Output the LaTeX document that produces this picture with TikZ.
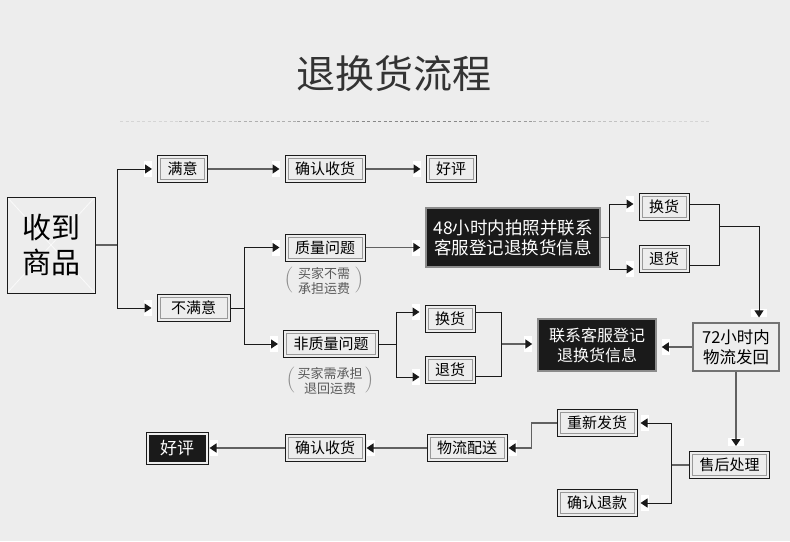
\documentclass[tikz,border=0pt]{standalone}
\usepackage{fontspec}
\newfontfamily\cjk{Noto Sans CJK SC}
\usetikzlibrary{arrows.meta,decorations.markings}
\definecolor{bg}{HTML}{EDEDED}
\definecolor{ink}{HTML}{1A1A1A}
\tikzset{
  ln/.style={draw=ink,line width=1pt},
  gl/.style={draw=black!62,line width=1.6pt},
  arr/.style={-{Triangle[length=7pt,width=9pt,color=ink]},shorten >=#1,
    preaction={decorate,decoration={markings,
      mark=at position 1 with {\fill[white] (-8pt-#1,-8pt) rectangle (-#1,8pt);}}}},
  arr/.default=5pt,
  wbox/.style={draw=ink,line width=1pt,fill=bg,minimum height=27pt,inner xsep=10pt,inner ysep=0pt,
    font=\cjk\fontsize{15}{18}\selectfont,
    path picture={\draw[black!40,line width=.8pt]
      ([shift={(3pt,-3pt)}]path picture bounding box.north west) rectangle
      ([shift={(-3pt,3pt)}]path picture bounding box.south east);}},
  kbox/.style={draw=black!45,line width=1.5pt,fill=ink,text=white,align=center,inner sep=0pt},
  note/.style={text=black!65,align=center,inner sep=0pt,font=\cjk\fontsize{13}{14.5}\selectfont},
  paren/.style={text=black!45,inner sep=0pt,font=\fontsize{26}{28}\selectfont}
}
\begin{document}
\begin{tikzpicture}[x=1pt,y=-1pt]
\fill[bg] (0,0) rectangle (790,541);
\path[use as bounding box] (0,0) rectangle (790,541);
% title
\node[text=black!80,font=\cjk\fontsize{39}{44}\selectfont] (title) at (394,74) {退换货流程};
\foreach \i in {0,...,9}{
  \pgfmathtruncatemacro\c{48-38*abs(\i-4.5)/4.5}
  \draw[black!\c!bg,line width=.8pt,dash pattern=on 3pt off 2.5pt] (120+\i*59,121) -- (179+\i*59,121);
}
% boxes
\node[draw=ink,line width=1pt,fill=bg,minimum width=88pt,minimum height=96pt,align=center,inner sep=0pt,
  font=\cjk\fontsize{29}{35}\selectfont,
  path picture={\draw[white!75!bg,line width=.8pt]
    (path picture bounding box.north west) -- (path picture bounding box.south east)
    (path picture bounding box.north east) -- (path picture bounding box.south west);}]
  (recv) at (51,245) {收到\\商品};
\node[wbox] (sat) at (182.5,169) {满意};
\node[wbox] (ok1) at (325,169) {确认收货};
\node[wbox] (good1) at (451,169) {好评};
\node[wbox,minimum width=73pt] (unsat) at (193.5,308) {不满意};
\node[wbox] (qual) at (325,247.5) {质量问题};
\node[wbox] (nq) at (331,344) {非质量问题};
\node[note] (n1) at (324,281) {买家不需\\承担运费};
\node[paren] (n1l) at (289,280) {(};
\node[paren] (n1r) at (359,280) {)};
\node[note] (n2) at (330,381) {买家需承担\\退回运费};
\node[paren] (n2l) at (291,380) {(};
\node[paren] (n2r) at (369,380) {)};
\node[kbox,minimum width=174pt,minimum height=59pt,font=\cjk\fontsize{17.5}{20}\selectfont]
  (k48) at (513,237.5) {48小时内拍照并联系\\客服登记退换货信息};
\node[wbox] (hr) at (664,207) {换货};
\node[wbox] (tr) at (664,259) {退货};
\node[wbox] (hm) at (450,319) {换货};
\node[wbox] (tm) at (450,370) {退货};
\node[kbox,minimum width=118pt,minimum height=52pt,font=\cjk\fontsize{16}{20}\selectfont]
  (lx) at (597,345) {联系客服登记\\退换货信息};
\node[draw=black!55,line width=1.2pt,fill=bg,minimum width=86pt,minimum height=48pt,align=center,inner sep=0pt,
  font=\cjk\fontsize{16.5}{20}\selectfont] (k72) at (736,347) {72小时内\\物流发回};
\node[wbox] (sh) at (729.5,465) {售后处理};
\node[wbox] (cf) at (597,423) {重新发货};
\node[wbox] (rf) at (597,503) {确认退款};
\node[wbox] (wl) at (467,448) {物流配送};
\node[wbox] (ok2) at (325,448) {确认收货};
\node[draw=ink,line width=1pt,fill=bg,minimum width=62pt,minimum height=32pt,inner sep=0pt,text=white,
  font=\cjk\fontsize{17}{20}\selectfont,
  path picture={\fill[ink]
    ([shift={(2.5pt,-2.5pt)}]path picture bounding box.north west) rectangle
    ([shift={(-2.5pt,2.5pt)}]path picture bounding box.south east);}]
  (good2) at (177,448) {好评};
% joins
\coordinate (j0) at (117,245);
\coordinate (j1) at (244,308);
\coordinate (j2) at (609,237.5);
\coordinate (j3) at (720,226);
\coordinate (j4) at (396,344);
\coordinate (j5) at (502,344);
\coordinate (j6) at (671,465);
% connectors
\draw[gl] (recv.east) -- (j0);
\draw[ln,arr] (j0) |- (sat.west);
\draw[ln,arr] (j0) |- (unsat.west);
\draw[gl,arr] (sat) -- (ok1);
\draw[gl,arr] (ok1) -- (good1);
\draw[ln] (unsat.east) -- (j1);
\draw[ln,arr] (j1) |- (qual.west);
\draw[ln,arr] (j1) |- (nq.west);
\draw[gl,arr] (qual.east) -- (qual.east -| k48.west);
\draw[gl] (k48.east) -- (j2);
\draw[ln,arr] (j2) |- ([yshift=3pt]hr.west);
\draw[ln,arr] (j2) |- ([yshift=-10pt]tr.west);
\draw[ln] ([yshift=3pt]hr.east) -- ++(30,0) |- ([yshift=-6pt]tr.east);
\draw[ln,arr] (j3) -| ([xshift=23pt]k72.north);
\draw[ln] (nq.east) -- (j4);
\draw[ln,arr] (j4) |- ([yshift=7pt]hm.west);
\draw[ln,arr] (j4) |- ([yshift=-7pt]tm.west);
\draw[ln] ([yshift=7pt]hm.east) -- ++(26,0) |- ([yshift=-6pt]tm.east);
\draw[gl,arr] (j5) -- (j5 -| lx.west);
\draw[gl,arr] (k72.west) -- (k72.west -| lx.east);
\draw[gl,arr] (k72.south) -- (k72.south |- sh.north);
\draw[gl] (sh.west) -- (j6);
\draw[ln,arr=3pt] (j6) |- (cf.east);
\draw[ln,arr=3pt] (j6) |- (rf.east);
\draw[gl,arr=1pt] (cf.west) -- ++(-25,0) |- (wl.east);
\draw[gl,arr=1pt] (wl) -- (ok2);
\draw[gl,arr=1pt] (ok2) -- (good2);
\end{tikzpicture}
\end{document}
